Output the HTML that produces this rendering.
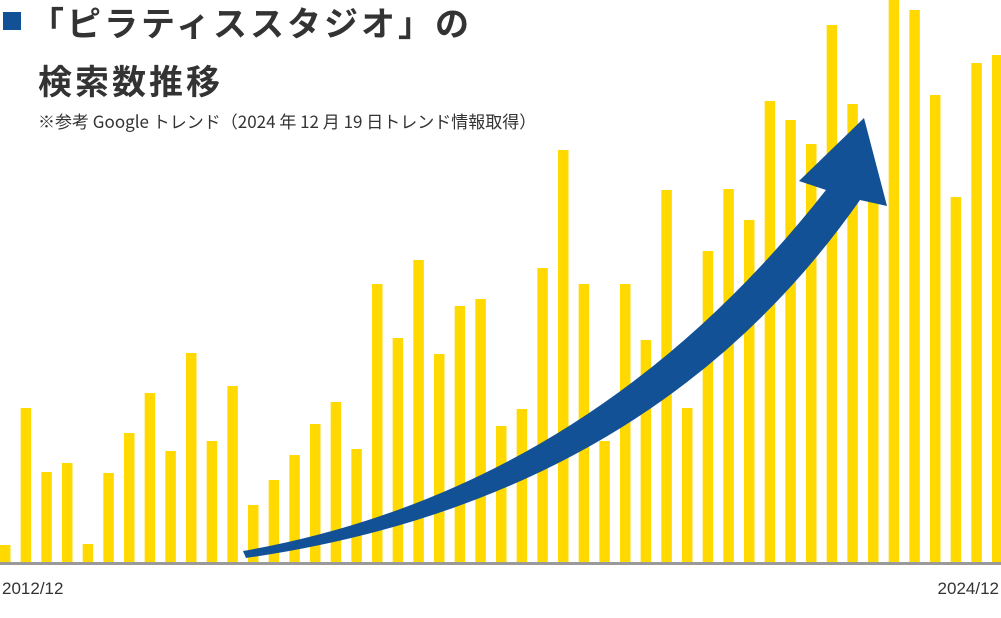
<!DOCTYPE html>
<html><head><meta charset="utf-8"><style>
body{margin:0;width:1001px;height:618px;background:#fff;overflow:hidden;font-family:"Liberation Sans","Noto Sans CJK JP",sans-serif;position:relative}
.t{position:absolute;color:#333;font-weight:bold;font-family:"Noto Sans CJK JP","Liberation Sans",sans-serif;letter-spacing:3px}
</style></head><body>
<svg width="1001" height="618" style="position:absolute;left:0;top:0">
<g id="bars"></g>
<line x1="0" y1="563.5" x2="1001" y2="563.5" stroke="#9a9a9a" stroke-width="3"/>
<path fill="#135196" d="M243,551 Q590,490 826,190 L799,181 L864,118 L887,206 L860,200 Q650,500 246,558 Z"/>
<text x="2" y="594" font-size="17" fill="#333" font-family="Liberation Sans, sans-serif">2012/12</text>
<text x="999" y="594" font-size="17" fill="#333" text-anchor="end" font-family="Liberation Sans, sans-serif">2024/12</text>
</svg>
<div style="position:absolute;left:3px;top:12px;width:18px;height:18px;background:#135196"></div>
<div class="t" style="left:30px;top:0px;font-size:34px;line-height:44px">「ピラティススタジオ」の</div>
<div class="t" style="left:38px;top:58px;font-size:34px;line-height:44px">検索数推移</div>
<div style="position:absolute;left:38px;top:108px;font-size:17px;color:#333;font-family:'Noto Sans CJK JP','Liberation Sans',sans-serif">※参考 Google トレンド（2024 年 12 月 19 日トレンド情報取得）</div>
<script>
const values=[17,154,90,99,18,89,129,169,111,209,121,176,57,82,107,138,160,113,278,224,302,208,256,263,136,153,294,412,278,121,278,222,372,154,311,373,342,461,442,418,537,458,382,562,552,467,365,499,507];
const baseY=562, maxV=562, plotH=562, step=(992)/48, barW=10.5;
const y=v=>baseY-v/maxV*plotH;
const g=document.getElementById('bars');
values.forEach((v,i)=>{
 const r=document.createElementNS('http://www.w3.org/2000/svg','rect');
 
 
 r.setAttribute('x',i*step);r.setAttribute('width',barW);
 r.setAttribute('y',y(v));r.setAttribute('height',baseY-y(v));
 r.setAttribute('fill','#ffd900');
 g.appendChild(r);
});
</script>
</body></html>
